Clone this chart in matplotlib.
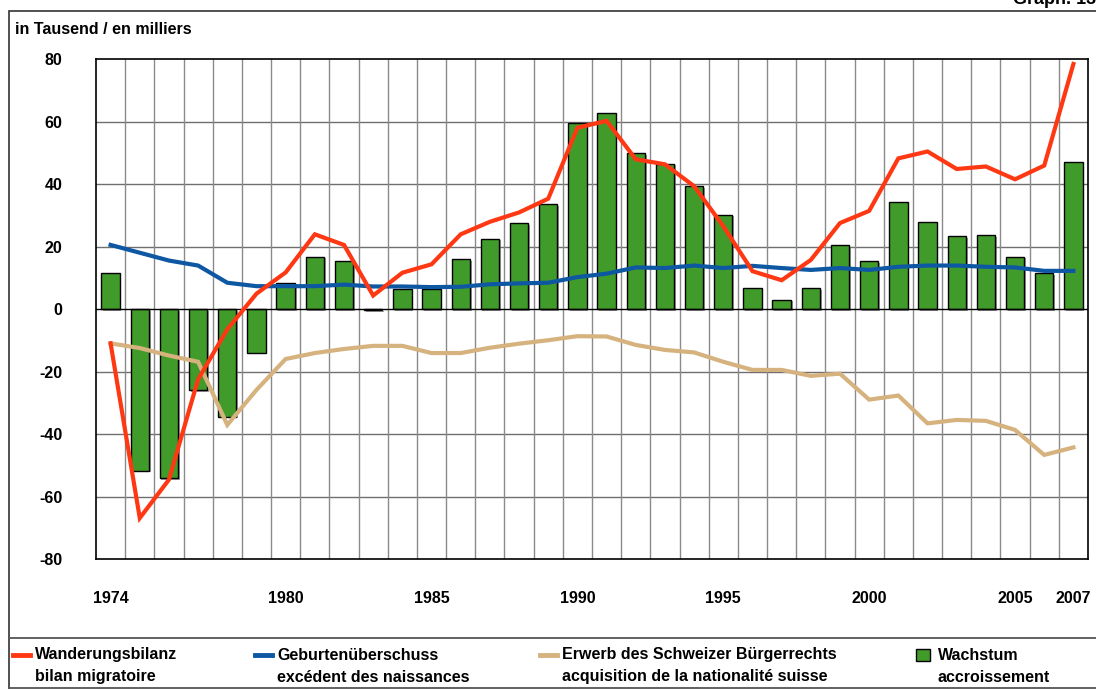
import matplotlib
matplotlib.use("Agg")
import matplotlib.pyplot as plt
import matplotlib.patheffects as pe
from matplotlib.lines import Line2D
from matplotlib.patches import Rectangle
import numpy as np

plt.rcParams["font.family"] = ["Liberation Sans", "DejaVu Sans"]
plt.rcParams["font.weight"] = "bold"

years = list(range(1974, 2008))
year_labels = ["1974", "1980", "1985", "1990", "1995", "2000", "2005", "2007"]

wachstum = [11.7, -51.6, -54.1, -25.8, -34.4, -13.9, 8.5, 16.8, 15.6, -0.3,
            6.6, 6.6, 16.0, 22.6, 27.6, 33.7, 59.7, 62.8, 50.0, 46.6,
            39.5, 30.3, 6.8, 3.1, 6.8, 20.6, 15.5, 34.4, 28.0, 23.5,
            23.8, 16.8, 11.5, 47.2]
wanderung = [-10.9, -66.8, -54.5, -22.4, -6.4, 5.0, 11.8, 24.0, 20.6, 4.4,
             11.7, 14.4, 24.0, 28.0, 31.0, 35.4, 58.1, 60.3, 48.0, 46.4,
             39.4, 26.6, 12.2, 9.3, 15.8, 27.6, 31.5, 48.3, 50.5, 44.9,
             45.7, 41.6, 46.0, 78.5]
geburten = [20.6, 18.1, 15.6, 14.0, 8.5, 7.4, 7.4, 7.4, 7.9, 7.3,
            7.3, 7.1, 7.2, 8.0, 8.3, 8.5, 10.3, 11.4, 13.4, 13.2,
            14.0, 13.2, 13.9, 13.2, 12.6, 13.2, 12.6, 13.6, 14.0, 14.0,
            13.6, 13.4, 12.3, 12.3]
erwerb = [-10.9, -12.4, -14.8, -16.8, -37.0, -25.8, -15.9, -14.0, -12.7, -11.7,
          -11.7, -14.0, -14.0, -12.3, -11.0, -9.9, -8.6, -8.7, -11.4, -13.0,
          -13.8, -16.8, -19.4, -19.4, -21.3, -20.6, -28.9, -27.6, -36.5, -35.4,
          -35.7, -38.6, -46.6, -44.2]

labels_de = ["Wanderungsbilanz", "Geburtenüberschuss",
             "Erwerb des Schweizer Bürgerrechts", "Wachstum"]
labels_fr = ["bilan migratoire", "excédent des naissances",
             "acquisition de la nationalité suisse", "accroissement"]

RED = "#ff3814"
BLUE = "#0d57a3"
TAN = "#d6b27f"
GREEN = "#409b2a"
FS = 11.5

W, H = 1096, 689
fig = plt.figure(figsize=(W / 100, H / 100), dpi=100)
ax = fig.add_axes([96 / W, 1 - 559.3 / H, (1088 - 96) / W, 500 / H])

x = np.arange(len(years))
ax.bar(x, wachstum, width=0.63, color=GREEN, edgecolor="black", linewidth=1.0,
       zorder=3,
       path_effects=[pe.SimplePatchShadow(offset=(1.2, -1.2), shadow_rgbFace="#777777", alpha=0.7),
                     pe.Normal()])
ax.plot(x, erwerb, color=TAN, lw=3.0, zorder=4, solid_joinstyle="miter")
ax.plot(x, geburten, color=BLUE, lw=3.0, zorder=5, solid_joinstyle="miter")
ax.plot(x, wanderung, color=RED, lw=3.0, zorder=6, solid_joinstyle="miter")

ax.set_xlim(-0.5, len(years) - 0.5)
ax.set_ylim(-80, 80)
ax.set_yticks(range(-80, 81, 20))
ax.set_yticklabels([str(v) for v in range(-80, 81, 20)], fontsize=FS, fontweight="bold")
for v in range(-60, 80, 20):
    ax.axhline(v, color="#6f6f6f" if v else "black", lw=1.0, zorder=1 if v else 4)
for i in range(len(years) - 1):
    ax.axvline(i + 0.5, color="#8a8a8a", lw=1.0, zorder=1)

tick_pos = [years.index(int(y)) for y in year_labels]
ax.set_xticks(tick_pos)
ax.set_xticklabels(year_labels, fontsize=FS, fontweight="bold")
ax.tick_params(axis="x", length=0, pad=23)
ax.tick_params(axis="y", length=0, pad=24)
for s in ax.spines.values():
    s.set_color("black")
    s.set_linewidth(1.2)

# frame and headings
fig.add_artist(Rectangle((8.5 / W, -0.01), 1.1, 1 - 11 / H + 0.01, transform=fig.transFigure,
                         fill=False, edgecolor="#333333", lw=1.2))
fig.text(15 / W, 1 - 30 / H, "in Tausend / en milliers", fontsize=FS, fontweight="bold",
         va="center", ha="left")
fig.text(1013 / W, 1 - 4 / H, "Graph. 13", fontsize=FS + 1.5, fontweight="bold",
         va="baseline", ha="left")

# legend
fig.add_artist(Rectangle((8.5 / W, 1 - 688 / H), 1.1, (688 - 638) / H, transform=fig.transFigure,
                         fill=False, edgecolor="#555555", lw=1.3))
entry_x = [13, 255, 540, 916]
handles = [RED, BLUE, TAN, None]
row1, row2 = 1 - 655 / H, 1 - 677 / H
for ex, col, de, fr in zip(entry_x, handles, labels_de, labels_fr):
    if col is not None:
        fig.add_artist(Line2D([ex / W, (ex + 17) / W], [row1, row1], color=col, lw=3.5,
                              transform=fig.transFigure))
    else:
        fig.add_artist(Rectangle((ex / W, row1 - 6 / H), 14 / W, 12 / H, transform=fig.transFigure,
                                 facecolor=GREEN, edgecolor="black", lw=1.0))
    fig.text((ex + 22) / W, row1, de, fontsize=FS, fontweight="bold", va="center", ha="left")
    fig.text((ex + 22) / W, row2, fr, fontsize=FS, fontweight="bold", va="center", ha="left")

fig.savefig("out.png", dpi=100)
